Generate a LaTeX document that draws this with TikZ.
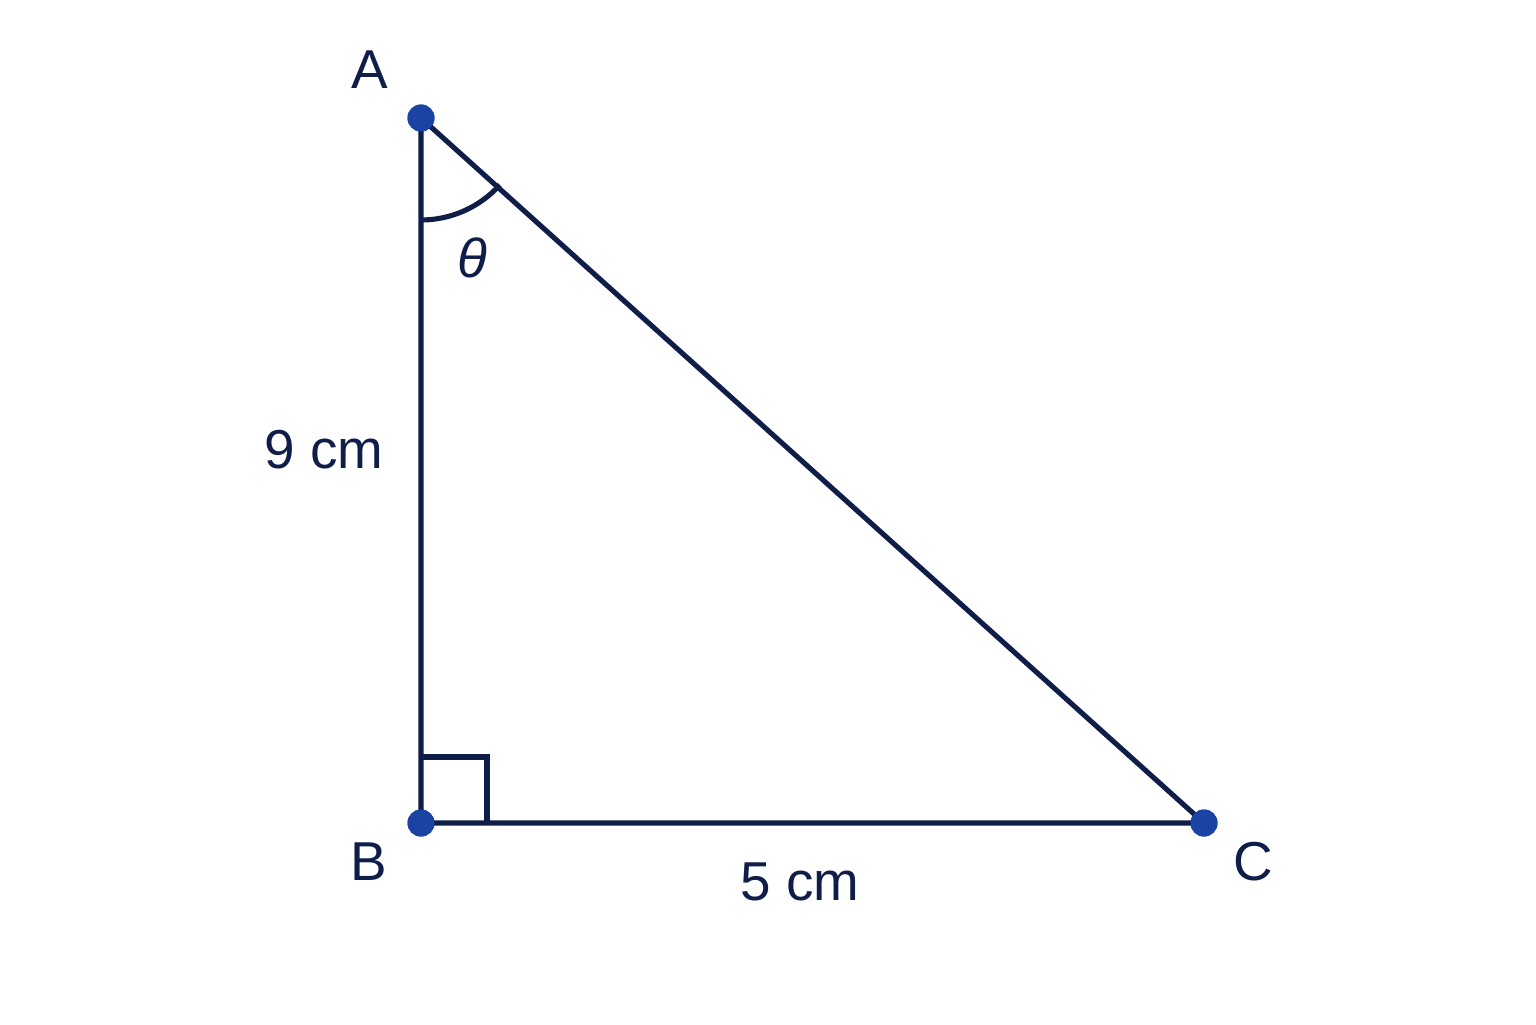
\documentclass[tikz,border=0pt]{standalone}
\usepackage{fontspec}
\setmainfont{Liberation Sans}
\usetikzlibrary{positioning,calc}
\definecolor{navy}{HTML}{0F1E48}
\definecolor{dotblue}{HTML}{1A43A3}

\begin{document}
\begin{tikzpicture}[-,thick,node distance=2cm,
  line width=1.45pt,color=navy,
  pt node/.style={circle,fill=dotblue,draw=none,inner sep=0pt,minimum size=0.27cm},
  lbl/.style={font=\fontsize{15.6}{18}\selectfont,text=navy,inner sep=0pt}]
            \useasboundingbox (-4.21,-2.01) rectangle (11.15,8.23);
            \node[pt node] (B) at (0,0) {};
            \node[pt node] (A) [above of=B,node distance=7.05cm] {};
            \node[pt node] (C) [right of=B,node distance=7.83cm] {};

            % sides
            \draw[line cap=round] (A.center) -- (B.center) -- (C.center) -- cycle;

            % right angle and angle mark
            \draw ($(B.center)+(0,0.66)$) -| ($(B.center)+(0.66,0)$);
            \draw ($(A.center)+(0,-1.02)$) arc[start angle=-90,end angle=-42,radius=1.06cm];

            % dots on top
            \node[pt node] at (A) {};
            \node[pt node] at (B) {};
            \node[pt node] at (C) {};

            % labels
            \node[lbl] (lA) at ($(A)+(-0.51,0.48)$) {A};
            \node[lbl] (lB) at ($(B)+(-0.52,-0.39)$) {B};
            \node[lbl] (lC) at ($(C)+(0.49,-0.39)$) {C};
            \node[lbl] (lAB) at ($(B)+(-0.97,3.73)$) {9 cm};
            \node[lbl] (lBC) at ($(B)+(3.79,-0.59)$) {5 cm};
            \node[lbl] (lth) at ($(A)+(0.51,-1.40)$) {\textit{θ}};
        \end{tikzpicture}
\end{document}
